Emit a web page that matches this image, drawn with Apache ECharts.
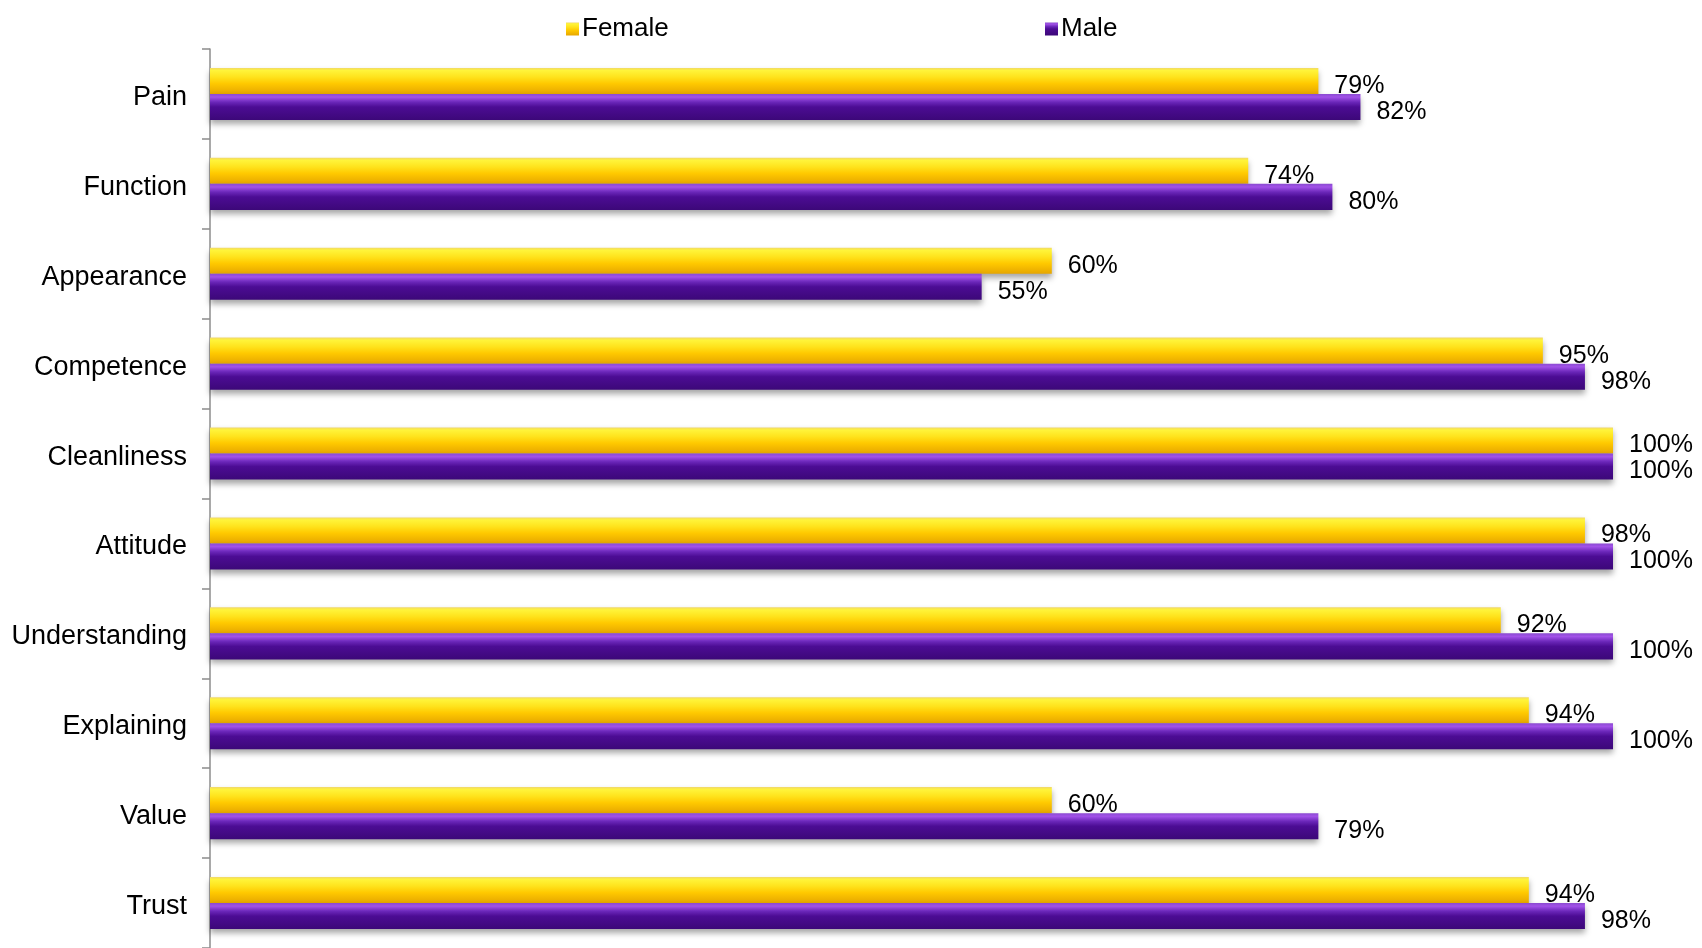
<!DOCTYPE HTML>
<html>
<head>
<meta charset="utf-8">
<title>Female / Male</title>
<script src="https://cdn.jsdelivr.net/npm/echarts@6/dist/echarts.min.js"></script>
<style>
	html, body { margin:0; padding:0; background:#fff; }
	#echart { width:1702px; height:948px; }
</style>
</head>
<body>
<div id="echart"></div>
<script type="text/javascript">
	// data
	var categories = ['Pain', 'Function', 'Appearance', 'Competence', 'Cleanliness', 'Attitude', 'Understanding', 'Explaining', 'Value', 'Trust'];
	var female = [79, 74, 60, 95, 100, 98, 92, 94, 60, 94];
	var male = [82, 80, 55, 98, 100, 100, 100, 100, 79, 98];

	var yellow = new echarts.graphic.LinearGradient(0, 0, 0, 1, [
		{offset: 0, color: '#f0d86a'},
		{offset: 0.1, color: '#fff43a'},
		{offset: 0.35, color: '#ffe31c'},
		{offset: 0.6, color: '#ffc900'},
		{offset: 1, color: '#e6a600'}
	]);
	var purple = new echarts.graphic.LinearGradient(0, 0, 0, 1, [
		{offset: 0, color: '#8a4ad0'},
		{offset: 0.12, color: '#a252e8'},
		{offset: 0.32, color: '#6a26b8'},
		{offset: 0.5, color: '#4c0c94'},
		{offset: 1, color: '#3c0878'}
	]);

	var myChart = echarts.init(document.getElementById('echart'));

	var font = 'Liberation Sans, Arial, sans-serif';

	var labelStyle = {
		show: true,
		position: 'right',
		distance: 16,
		offset: [0, 5],
		color: '#000',
		fontFamily: font,
		fontSize: 25,
		formatter: '{c}%'
	};

	function legendAt(name, x) {
		return {
			data: [name],
			left: x,
			top: 11,
			icon: 'rect',
			itemWidth: 13,
			itemHeight: 13,
			itemGap: 4,
			textStyle: {fontFamily: font, fontSize: 26, color: '#000', padding: [0, 0, 0, -2]}
		};
	}

	option = {
		animation: false,
		legend: [legendAt('Female', 561), legendAt('Male', 1040)],
		grid: {
			left: 210,
			right: 89,
			top: 49,
			bottom: -4
		},
		xAxis: {
			type: 'value',
			min: 0,
			max: 100,
			show: false,
			splitLine: {show: false}
		},
		yAxis: {
			type: 'category',
			inverse: true,
			data: categories,
			axisLine: {show: true, lineStyle: {color: '#8c8c8c', width: 1.5}},
			axisTick: {show: true, length: 8, lineStyle: {color: '#8c8c8c', width: 1.5}},
			axisLabel: {
				margin: 23,
				color: '#000',
				fontFamily: font,
				fontSize: 27,
				// small line box hung from the band centre: text sits ~3px low, like the source
				verticalAlign: 'top',
				lineHeight: 7
			}
		},
		series: [
			{
				name: 'Female',
				type: 'bar',
				data: female,
				barGap: '0%',
				barCategoryGap: '42%',
				itemStyle: {
					color: yellow,
					shadowColor: 'rgba(0,0,0,0.35)',
					shadowBlur: 6,
					shadowOffsetY: 4
				},
				label: labelStyle
			},
			{
				name: 'Male',
				type: 'bar',
				data: male,
				itemStyle: {
					color: purple,
					shadowColor: 'rgba(0,0,0,0.35)',
					shadowBlur: 6,
					shadowOffsetY: 4
				},
				label: labelStyle
			}
		]
	};
	myChart.setOption(option);
</script>
</body>
</html>
